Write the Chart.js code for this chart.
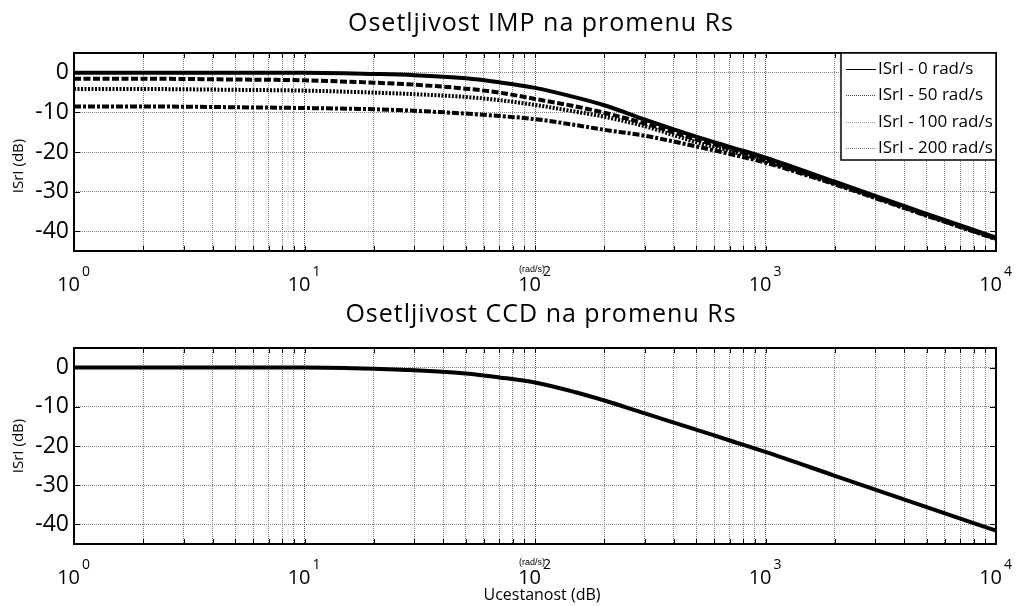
<!DOCTYPE html>
<html>
<head>
<meta charset="utf-8">
<script src="https://cdn.jsdelivr.net/npm/chart.js@4.4.1/dist/chart.umd.min.js"></script>
<style>
  html, body { margin: 0; padding: 0; background: #fff; }
  #wrap { position: relative; width: 1018px; height: 606px; }
  canvas { position: absolute; left: 0; }
  #c1 { top: 0; }
  #c2 { top: 300px; }
</style>
</head>
<body>
<div id="wrap">
  <canvas id="c1" width="1018" height="300"></canvas>
  <canvas id="c2" width="1018" height="306"></canvas>
</div>
<script>
// ---------- data ----------
const freqs   = [1, 2, 5, 10, 20, 30, 50, 70, 100, 150, 200, 300, 500, 700, 1000, 2000, 5000, 10000];
const imp0    = [0, 0, 0, 0, -0.3, -0.6, -1.4, -2.4, -3.8, -6.2, -8.2, -11.8, -16.1, -18.7, -21.4, -27.5, -35.6, -41.6];
const imp50   = [-1.5, -1.5, -1.7, -1.9, -2.5, -3.0, -4.0, -5.0, -6.6, -8.5, -10.1, -12.8, -16.8, -19.2, -22.0, -27.8, -35.8, -41.8];
const imp100  = [-4.1, -4.1, -4.3, -4.5, -5.0, -5.4, -6.1, -6.9, -8.1, -9.8, -11.1, -13.5, -17.5, -19.7, -22.3, -28.0, -36.0, -41.9];
const imp200  = [-8.5, -8.5, -8.7, -8.9, -9.2, -9.6, -10.3, -10.9, -11.7, -13.2, -14.4, -15.9, -18.6, -20.5, -22.7, -28.2, -36.1, -42.0];
const ccd0    = [0, 0, 0, 0, -0.3, -0.7, -1.5, -2.5, -3.8, -6.3, -8.4, -11.7, -15.8, -18.6, -21.5, -27.6, -35.6, -41.6];

const legendLabels = ['ISrI - 0 rad/s', 'ISrI - 50 rad/s', 'ISrI - 100 rad/s', 'ISrI - 200 rad/s'];
const xGrid = [1,2,3,4,5,6,7,8,9,10,20,30,40,50,60,70,80,90,100,200,300,400,500,600,700,800,900,
               1000,2000,3000,4000,5000,6000,7000,8000,9000,10000];
const xMajor = [1, 10, 100, 1000, 10000];
const xMajorExp = ['0', '1', '2', '3', '4'];
const yTicks = [0, -10, -20, -30, -40];

const FONT = '"Open Sans", "DejaVu Sans", sans-serif';

function pts(vals) { return freqs.map((f, i) => ({ x: f, y: vals[i] })); }

function decorPlugin(o) {
  return {
    id: 'decor',
    afterDraw(chart) {
      const ctx = chart.ctx;
      const a = chart.chartArea;
      const xs = chart.scales.x, ys = chart.scales.y;
      ctx.save();
      // inward ticks
      ctx.strokeStyle = '#000';
      ctx.lineWidth = 1;
      ctx.setLineDash([]);
      xGrid.forEach(v => {
        const px = Math.round(xs.getPixelForValue(v)) + 0.5;
        ctx.beginPath();
        ctx.moveTo(px, a.top); ctx.lineTo(px, a.top + 5);
        ctx.moveTo(px, a.bottom); ctx.lineTo(px, a.bottom - 5);
        ctx.stroke();
      });
      yTicks.forEach(v => {
        const py = Math.round(ys.getPixelForValue(v)) + 0.5;
        ctx.beginPath();
        ctx.moveTo(a.left, py); ctx.lineTo(a.left + 6, py);
        ctx.moveTo(a.right, py); ctx.lineTo(a.right - 6, py);
        ctx.stroke();
      });
      // plot box
      ctx.lineWidth = 2;
      ctx.strokeRect(a.left, a.top, a.right - a.left, a.bottom - a.top);

      // title
      ctx.fillStyle = '#000';
      ctx.font = '25px ' + FONT;
      ctx.textAlign = 'center';
      ctx.textBaseline = 'alphabetic';
      try { ctx.letterSpacing = '1px'; } catch (e) {}
      ctx.fillText(o.title, 541, o.titleBase);
      try { ctx.letterSpacing = '0px'; } catch (e) {}

      // x tick labels 10^n
      xMajor.forEach((v, i) => {
        const px = xs.getPixelForValue(v);
        ctx.font = '20px ' + FONT;
        ctx.textAlign = 'right';
        ctx.fillText('10', px + 6, o.xLabBase);
        ctx.font = '14px ' + FONT;
        ctx.textAlign = 'left';
        ctx.fillText(xMajorExp[i], px + 8, o.xLabBase - 15);
      });
      // (rad/s) unit note
      ctx.font = '9px "Liberation Sans", Arial, sans-serif';
      ctx.textAlign = 'left';
      ctx.fillText('(rad/s)', xs.getPixelForValue(100) - 16, o.xLabBase - 19);

      // y title
      ctx.save();
      ctx.translate(19, o.yTitleY);
      ctx.rotate(-Math.PI / 2);
      ctx.font = '15px ' + FONT;
      ctx.textAlign = 'center';
      ctx.textBaseline = 'middle';
      ctx.fillText('ISrI (dB)', 0, 0);
      ctx.restore();

      // x title
      if (o.xTitle) {
        ctx.font = '16px ' + FONT;
        ctx.textAlign = 'center';
        ctx.textBaseline = 'middle';
        ctx.fillText(o.xTitle, 542, o.xTitleY);
      }

      // legend
      if (o.legend) {
        const lx = 841, ly = a.top, lw = a.right - 841, lh = 107;
        ctx.fillStyle = '#fff';
        ctx.fillRect(lx, ly, lw, lh);
        ctx.lineWidth = 1.5;
        ctx.strokeStyle = '#000';
        ctx.strokeRect(lx, ly, lw, lh);
        const cols = ['#000', '#444', '#999', '#777'];
        legendLabels.forEach((t, i) => {
          const yy = ly + 16 + i * 26.4;
          ctx.beginPath();
          ctx.lineWidth = 1;
          ctx.strokeStyle = cols[i];
          ctx.setLineDash(i === 0 ? [] : [1, 1]);
          ctx.moveTo(846, Math.round(yy) + 0.5);
          ctx.lineTo(876, Math.round(yy) + 0.5);
          ctx.stroke();
          ctx.setLineDash([]);
          ctx.fillStyle = '#000';
          ctx.font = '17px ' + FONT;
          ctx.textAlign = 'left';
          ctx.textBaseline = 'middle';
          ctx.fillText(t, 878, yy);
        });
      }
      ctx.restore();
    }
  };
}

function baseOptions(padTop, xHeight) {
  return {
    responsive: false,
    animation: false,
    devicePixelRatio: 1,
    layout: { padding: { top: padTop, right: 22, left: 0, bottom: 0 } },
    plugins: { legend: { display: false }, title: { display: false }, tooltip: { enabled: false } },
    elements: { point: { radius: 0 }, line: { cubicInterpolationMode: 'monotone' } },
    scales: {
      x: {
        type: 'logarithmic', min: 1, max: 10000,
        afterBuildTicks: s => { s.ticks = xGrid.map(v => ({ value: v })); },
        afterFit: s => { s.height = xHeight; },
        ticks: { display: false },
        grid: {
          drawTicks: false, lineWidth: 1,
          color: c => (xMajor.includes(c.tick && c.tick.value) ? '#555' : '#808080')
        },
        border: { display: false, dash: [1, 1] }
      },
      y: {
        min: -45, max: 5,
        afterBuildTicks: s => { s.ticks = yTicks.map(v => ({ value: v })); },
        afterFit: s => { s.width = 74; },
        ticks: { color: '#000', padding: 5, font: { family: FONT, size: 23 } },
        grid: { drawTicks: false, lineWidth: 1, color: '#808080' },
        border: { display: false, dash: [1, 1] }
      }
    }
  };
}

function ds(vals, dash) {
  return { data: pts(vals), borderColor: '#000', borderWidth: 4, borderDash: dash, fill: false, pointRadius: 0 };
}

new Chart(document.getElementById('c1'), {
  type: 'line',
  data: {
    datasets: [
      ds(imp200, [7, 2, 3, 2]),
      ds(imp100, [2, 1.5]),
      ds(imp50, [7, 2.5]),
      ds(imp0, [])
    ]
  },
  options: baseOptions(53, 49),
  plugins: [decorPlugin({
    title: 'Osetljivost IMP na promenu Rs', titleBase: 31,
    xLabBase: 291, yTitleY: 166, legend: true
  })]
});

new Chart(document.getElementById('c2'), {
  type: 'line',
  data: { datasets: [ds(ccd0, [])] },
  options: baseOptions(48, 62),
  plugins: [decorPlugin({
    title: 'Osetljivost CCD na promenu Rs', titleBase: 22,
    xLabBase: 284, yTitleY: 146, legend: false,
    xTitle: 'Ucestanost (dB)', xTitleY: 295
  })]
});
</script>
</body>
</html>
